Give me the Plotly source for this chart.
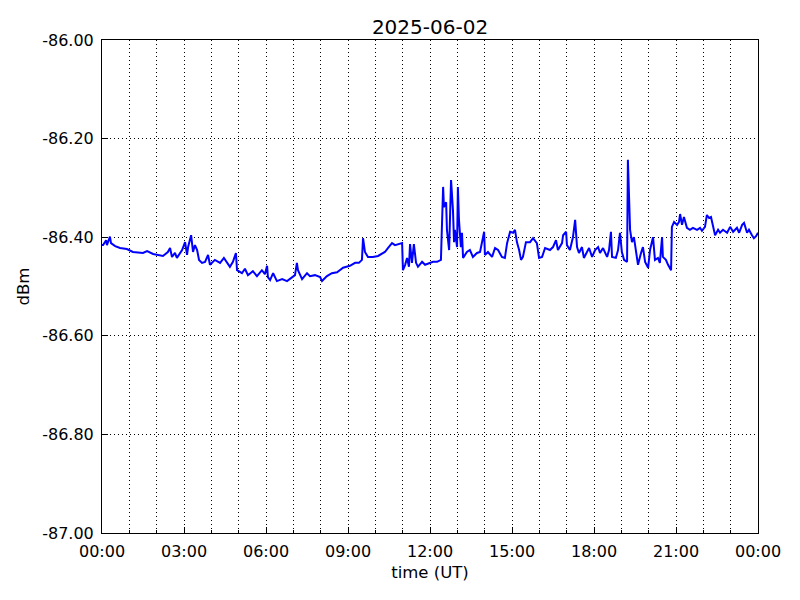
import pandas as pd
import plotly.graph_objects as go

DAY = "2025-06-02"

# hours after 00:00 UT
hours = [
    0.00, 0.04, 0.15, 0.18, 0.29, 0.33, 0.48, 0.66, 0.91, 1.13,
    1.50, 1.65, 1.87, 2.23, 2.41, 2.49, 2.56, 2.67, 2.74, 2.93,
    3.04, 3.11, 3.15, 3.26, 3.33, 3.40, 3.48, 3.55, 3.66, 3.77,
    3.88, 3.95, 4.13, 4.32, 4.46, 4.57, 4.68, 4.79, 4.90, 4.94,
    5.12, 5.23, 5.34, 5.52, 5.67, 5.85, 5.96, 6.04, 6.07, 6.15,
    6.26, 6.40, 6.59, 6.77, 6.95, 7.06, 7.13, 7.17, 7.32, 7.50,
    7.61, 7.79, 7.98, 8.05, 8.23, 8.41, 8.60, 8.82, 9.07, 9.26,
    9.40, 9.51, 9.55, 9.62, 9.73, 9.91, 10.10, 10.28, 10.35, 10.46,
    10.61, 10.72, 10.83, 10.98, 11.01, 11.09, 11.16, 11.23, 11.27, 11.34,
    11.41, 11.49, 11.56, 11.71, 11.82, 12.00, 12.11,
    12.26, 12.40, 12.48, 12.51, 12.59, 12.62, 12.70, 12.73, 12.77, 12.84,
    12.88, 12.91, 12.99, 13.02, 13.06, 13.13, 13.17, 13.21, 13.35, 13.46,
    13.57, 13.72, 13.83, 13.94, 13.98, 14.01, 14.12, 14.27, 14.38, 14.49,
    14.63, 14.74, 14.82, 14.93, 15.04, 15.11, 15.18, 15.26, 15.33, 15.40,
    15.51, 15.66, 15.77, 15.91, 15.99, 16.10, 16.21, 16.39, 16.50, 16.61,
    16.68, 16.83, 16.87, 16.98, 17.01, 17.12, 17.23, 17.31, 17.38, 17.45,
    17.56, 17.63, 17.74, 17.82, 17.93, 18.04,
    18.15, 18.22, 18.33, 18.48, 18.55, 18.62, 18.66, 18.80, 18.88, 18.95,
    19.02, 19.10, 19.21, 19.24, 19.32, 19.39, 19.46, 19.54, 19.61, 19.72,
    19.79, 19.87, 19.98, 20.05, 20.12, 20.16, 20.23, 20.34, 20.41, 20.49,
    20.52, 20.63, 20.71, 20.82, 20.85, 20.93, 21.04, 21.11, 21.15, 21.22,
    21.29, 21.40, 21.51, 21.62, 21.77, 21.88, 21.95, 22.06, 22.13, 22.21,
    22.28, 22.35, 22.43, 22.54, 22.61, 22.72, 22.87, 22.98, 23.09, 23.23,
    23.31, 23.42, 23.49, 23.60, 23.67, 23.78, 23.85, 23.93, 24.00,
]
dbm = [
    -86.416, -86.416, -86.406, -86.416, -86.399, -86.412, -86.418, -86.422, -86.424, -86.430,
    -86.432, -86.428, -86.434, -86.438, -86.430, -86.422, -86.440, -86.432, -86.442, -86.426,
    -86.410, -86.436, -86.420, -86.396, -86.430, -86.416, -86.426, -86.446, -86.452, -86.450,
    -86.436, -86.456, -86.446, -86.452, -86.442, -86.452, -86.460, -86.450, -86.432, -86.467,
    -86.473, -86.464, -86.477, -86.469, -86.479, -86.467, -86.475, -86.458, -86.481, -86.487,
    -86.473, -86.489, -86.485, -86.489, -86.481, -86.477, -86.452, -86.467, -86.485, -86.473,
    -86.479, -86.477, -86.481, -86.489, -86.479, -86.473, -86.471, -86.462, -86.458, -86.452,
    -86.452, -86.446, -86.402, -86.430, -86.440, -86.440, -86.438, -86.432, -86.430, -86.422,
    -86.412, -86.416, -86.414, -86.412, -86.467, -86.456, -86.442, -86.460, -86.414, -86.452,
    -86.414, -86.452, -86.460, -86.450, -86.456, -86.452, -86.450,
    -86.450, -86.446, -86.298, -86.339, -86.329, -86.385, -86.426, -86.371, -86.284, -86.345,
    -86.410, -86.385, -86.420, -86.298, -86.365, -86.420, -86.391, -86.442, -86.430, -86.426,
    -86.440, -86.432, -86.430, -86.400, -86.389, -86.436, -86.430, -86.440, -86.422, -86.426,
    -86.440, -86.442, -86.412, -86.389, -86.391, -86.385, -86.410, -86.426, -86.446, -86.440,
    -86.410, -86.410, -86.402, -86.412, -86.442, -86.440, -86.422, -86.426, -86.420, -86.406,
    -86.426, -86.412, -86.396, -86.389, -86.416, -86.426, -86.400, -86.365, -86.420, -86.432,
    -86.420, -86.442, -86.430, -86.422, -86.440, -86.426,
    -86.420, -86.432, -86.422, -86.440, -86.426, -86.389, -86.440, -86.442, -86.426, -86.391,
    -86.430, -86.446, -86.450, -86.243, -86.385, -86.410, -86.400, -86.426, -86.456, -86.432,
    -86.420, -86.450, -86.462, -86.426, -86.406, -86.400, -86.446, -86.442, -86.452, -86.400,
    -86.440, -86.446, -86.456, -86.467, -86.379, -86.369, -86.375, -86.369, -86.353, -86.375,
    -86.359, -86.381, -86.385, -86.381, -86.385, -86.381, -86.387, -86.379, -86.355, -86.361,
    -86.359, -86.375, -86.396, -86.385, -86.391, -86.385, -86.391, -86.379, -86.389, -86.381,
    -86.391, -86.375, -86.371, -86.391, -86.385, -86.396, -86.402, -86.398, -86.391,
]

y_tickvals = [-87.0, -86.8, -86.6, -86.4, -86.2, -86.0]
y_ticktext = ["-87.00", "-86.80", "-86.60", "-86.40", "-86.20", "-86.00"]

start = pd.Timestamp(f"{DAY} 00:00")
end = start + pd.Timedelta(hours=24)
x = [start + pd.Timedelta(hours=h) for h in hours]

fig = go.Figure()
fig.add_trace(go.Scatter(x=x, y=dbm, mode="lines",
                         line=dict(color="#0000ff", width=2.0), showlegend=False))

font = dict(family="DejaVu Sans", size=16, color="black")
grid_dash = "1px,3px"
fig.update_layout(
    width=800, height=600,
    margin=dict(l=102, r=42, t=40, b=67),
    paper_bgcolor="white", plot_bgcolor="white",
    font=font,
    title=dict(text=DAY, x=0.5, xref="paper", xanchor="center", y=1 - 27/600, yanchor="middle",
               yref="container", font=dict(family="DejaVu Sans", size=20)),
)
fig.update_xaxes(
    type="date", range=[start, end],
    dtick=3*3600*1000, tick0=start, tickformat="%H:%M",
    showgrid=True, gridcolor="black", griddash=grid_dash, gridwidth=1,
    showline=True, linecolor="black", linewidth=1, mirror=True,
    ticks="inside", ticklen=6, tickcolor="black",
    minor=dict(dtick=3600*1000, tick0=start, showgrid=True, gridcolor="black",
               griddash=grid_dash, gridwidth=1, ticks="inside", ticklen=3, tickcolor="black"),
    zeroline=False,
    title=dict(text="time (UT)", standoff=6, font=dict(size=16.5)),
    tickfont=dict(size=16),
    ticklabelstandoff=4,
)
fig.update_yaxes(
    range=[-87.0, -86.0], tickvals=y_tickvals, ticktext=y_ticktext,
    showgrid=True, gridcolor="black", griddash=grid_dash, gridwidth=1,
    showline=True, linecolor="black", linewidth=1, mirror=True,
    ticks="inside", ticklen=6, tickcolor="black",
    zeroline=False,
    title=dict(text="dBm", standoff=8, font=dict(size=16.5)),
    tickfont=dict(size=16),
    ticklabelstandoff=4,
)
fig.write_html("out.html", config={"displayModeBar": False},
               post_script="document.body.style.margin='0';")
